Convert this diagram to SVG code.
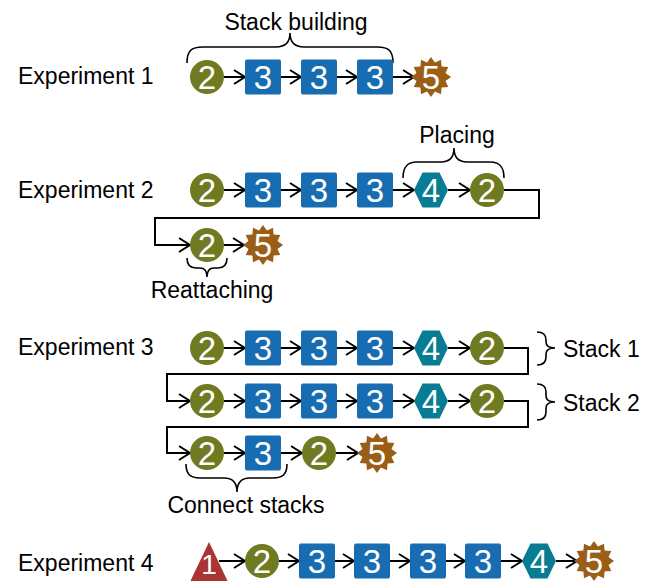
<svg xmlns="http://www.w3.org/2000/svg" width="650" height="581" viewBox="0 0 650 581">
<style>
text{font-family:"Liberation Sans",Arial,sans-serif}
.lbl{font-size:23px;fill:#000}
.num{font-size:33px;fill:#fff;text-anchor:middle}
.c2{fill:#6f7a21}
.s3{fill:#176cb2}
.h4{fill:#077c93}
.st5{fill:#9a5e16}
.t1{fill:#a93431}
.ln{stroke:#000;stroke-width:2;fill:none}
.br{stroke:#000;stroke-width:1.6;fill:none}
</style>
<defs>
<marker id="ah" markerUnits="userSpaceOnUse" markerWidth="14" markerHeight="16" refX="12" refY="8" orient="auto" overflow="visible">
<path d="M1,1 L12,8 L1,15" fill="none" stroke="#000" stroke-width="2"/>
</marker>
<circle id="circ" r="17"/>
<rect id="sq" x="-18" y="-17.5" width="36" height="35" rx="2"/>
<polygon id="hex" points="-17,0 -8.5,-17.5 8.5,-17.5 17,0 8.5,17.5 -8.5,17.5"/>
<polygon id="star" points="0,-20 3.9,-14.5 10,-17.3 10.6,-10.6 17.3,-10 14.5,-3.9 20,0 14.5,3.9 17.3,10 10.6,10.6 10,17.3 3.9,14.5 0,20 -3.9,14.5 -10,17.3 -10.6,10.6 -17.3,10 -14.5,3.9 -20,0 -14.5,-3.9 -17.3,-10 -10.6,-10.6 -10,-17.3 -3.9,-14.5"/>
</defs>

<g id="labels">
<text class="lbl" x="18" y="84">Experiment 1</text>
<text class="lbl" x="18" y="198">Experiment 2</text>
<text class="lbl" x="18" y="355">Experiment 3</text>
<text class="lbl" x="18" y="571">Experiment 4</text>
<text class="lbl" x="296" y="30" text-anchor="middle">Stack building</text>
<text class="lbl" x="457" y="143" text-anchor="middle">Placing</text>
<text class="lbl" x="212" y="298" text-anchor="middle">Reattaching</text>
<text class="lbl" x="246" y="513" text-anchor="middle">Connect stacks</text>
<text class="lbl" x="563" y="357">Stack 1</text>
<text class="lbl" x="563" y="411">Stack 2</text>
</g>

<g id="braces">
<path class="br" d="M187,63 C187,51 191,47 203,47 L276,47 C286,47 290,42 290,33 C290,42 294,47 304,47 L377,47 C389,47 393,51 393,63"/>
<path class="br" d="M403,178 C403,167 407,162 417,162 L441,162 C450,162 454,157 454,148 C454,157 458,162 467,162 L490,162 C500,162 504,167 504,178"/>
<path class="br" d="M187,258 C187,264 190,268 196,268 L200,268 C205,268 207,271 207,277 C207,271 209,268 214,268 L218,268 C224,268 227,264 227,258"/>
<path class="br" d="M186,464 C186,474 190,478 200,478 L224,478 C233,478 237,483 237,492 C237,483 241,478 250,478 L273,478 C283,478 287,474 287,464"/>
<path class="br" d="M537,332 C543,332 546,335 546,340 L546,342 C546,346 549,348 555,348 C549,348 546,350 546,354 L546,357 C546,362 543,365 537,365"/>
<path class="br" d="M537,384 C543,384 546,387 546,392 L546,396 C546,400 549,402 555,402 C549,402 546,404 546,408 L546,412 C546,417 543,420 537,420"/>
</g>

<g id="connectors">
<line class="ln" x1="224" y1="77" x2="245" y2="77" marker-end="url(#ah)"/>
<line class="ln" x1="281" y1="77" x2="301" y2="77" marker-end="url(#ah)"/>
<line class="ln" x1="337" y1="77" x2="357" y2="77" marker-end="url(#ah)"/>
<line class="ln" x1="393" y1="77" x2="414" y2="77" marker-end="url(#ah)"/>

<line class="ln" x1="224" y1="190" x2="245" y2="190" marker-end="url(#ah)"/>
<line class="ln" x1="281" y1="190" x2="301" y2="190" marker-end="url(#ah)"/>
<line class="ln" x1="337" y1="190" x2="357" y2="190" marker-end="url(#ah)"/>
<line class="ln" x1="393" y1="190" x2="414" y2="190" marker-end="url(#ah)"/>
<line class="ln" x1="448" y1="190" x2="470" y2="190" marker-end="url(#ah)"/>
<polyline class="ln" points="504,190 539,190 539,218 155,218 155,245 190,245" marker-end="url(#ah)"/>
<line class="ln" x1="224" y1="245" x2="244" y2="245" marker-end="url(#ah)"/>

<line class="ln" x1="224" y1="348" x2="245" y2="348" marker-end="url(#ah)"/>
<line class="ln" x1="281" y1="348" x2="301" y2="348" marker-end="url(#ah)"/>
<line class="ln" x1="337" y1="348" x2="357" y2="348" marker-end="url(#ah)"/>
<line class="ln" x1="393" y1="348" x2="414" y2="348" marker-end="url(#ah)"/>
<line class="ln" x1="448" y1="348" x2="470" y2="348" marker-end="url(#ah)"/>
<polyline class="ln" points="504,348 528,348 528,374 167,374 167,401 190,401" marker-end="url(#ah)"/>
<line class="ln" x1="224" y1="401" x2="245" y2="401" marker-end="url(#ah)"/>
<line class="ln" x1="281" y1="401" x2="301" y2="401" marker-end="url(#ah)"/>
<line class="ln" x1="337" y1="401" x2="357" y2="401" marker-end="url(#ah)"/>
<line class="ln" x1="393" y1="401" x2="414" y2="401" marker-end="url(#ah)"/>
<line class="ln" x1="448" y1="401" x2="470" y2="401" marker-end="url(#ah)"/>
<polyline class="ln" points="504,401 528,401 528,427 167,427 167,453 190,453" marker-end="url(#ah)"/>
<line class="ln" x1="224" y1="453" x2="245" y2="453" marker-end="url(#ah)"/>
<line class="ln" x1="281" y1="453" x2="302" y2="453" marker-end="url(#ah)"/>
<line class="ln" x1="336" y1="453" x2="358" y2="453" marker-end="url(#ah)"/>

<line class="ln" x1="219" y1="561" x2="245" y2="561" marker-end="url(#ah)"/>
<line class="ln" x1="279" y1="561" x2="299" y2="561" marker-end="url(#ah)"/>
<line class="ln" x1="335" y1="561" x2="354" y2="561" marker-end="url(#ah)"/>
<line class="ln" x1="390" y1="561" x2="410" y2="561" marker-end="url(#ah)"/>
<line class="ln" x1="446" y1="561" x2="465" y2="561" marker-end="url(#ah)"/>
<line class="ln" x1="501" y1="561" x2="522" y2="561" marker-end="url(#ah)"/>
<line class="ln" x1="556" y1="561" x2="577" y2="561" marker-end="url(#ah)"/>
</g>

<!-- Experiment 1 -->
<g id="e1n1" transform="translate(207,77)"><use href="#circ" class="c2"/><text class="num" y="12">2</text></g>
<g id="e1n2" transform="translate(263,77)"><use href="#sq" class="s3"/><text class="num" y="12">3</text></g>
<g id="e1n3" transform="translate(319,77)"><use href="#sq" class="s3"/><text class="num" y="12">3</text></g>
<g id="e1n4" transform="translate(375,77)"><use href="#sq" class="s3"/><text class="num" y="12">3</text></g>
<g id="e1n5" transform="translate(431,77)"><use href="#star" class="st5"/><text class="num" y="12">5</text></g>

<!-- Experiment 2 -->
<g id="e2n1" transform="translate(207,190)"><use href="#circ" class="c2"/><text class="num" y="12">2</text></g>
<g id="e2n2" transform="translate(263,190)"><use href="#sq" class="s3"/><text class="num" y="12">3</text></g>
<g id="e2n3" transform="translate(319,190)"><use href="#sq" class="s3"/><text class="num" y="12">3</text></g>
<g id="e2n4" transform="translate(375,190)"><use href="#sq" class="s3"/><text class="num" y="12">3</text></g>
<g id="e2n5" transform="translate(431,190)"><use href="#hex" class="h4"/><text class="num" y="12">4</text></g>
<g id="e2n6" transform="translate(487,190)"><use href="#circ" class="c2"/><text class="num" y="12">2</text></g>
<g id="e2n7" transform="translate(207,245)"><use href="#circ" class="c2"/><text class="num" y="12">2</text></g>
<g id="e2n8" transform="translate(263,245)"><use href="#star" class="st5"/><text class="num" y="12">5</text></g>

<!-- Experiment 3 -->
<g id="e3n1" transform="translate(207,348)"><use href="#circ" class="c2"/><text class="num" y="12">2</text></g>
<g id="e3n2" transform="translate(263,348)"><use href="#sq" class="s3"/><text class="num" y="12">3</text></g>
<g id="e3n3" transform="translate(319,348)"><use href="#sq" class="s3"/><text class="num" y="12">3</text></g>
<g id="e3n4" transform="translate(375,348)"><use href="#sq" class="s3"/><text class="num" y="12">3</text></g>
<g id="e3n5" transform="translate(431,348)"><use href="#hex" class="h4"/><text class="num" y="12">4</text></g>
<g id="e3n6" transform="translate(487,348)"><use href="#circ" class="c2"/><text class="num" y="12">2</text></g>
<g id="e3n7" transform="translate(207,401)"><use href="#circ" class="c2"/><text class="num" y="12">2</text></g>
<g id="e3n8" transform="translate(263,401)"><use href="#sq" class="s3"/><text class="num" y="12">3</text></g>
<g id="e3n9" transform="translate(319,401)"><use href="#sq" class="s3"/><text class="num" y="12">3</text></g>
<g id="e3n10" transform="translate(375,401)"><use href="#sq" class="s3"/><text class="num" y="12">3</text></g>
<g id="e3n11" transform="translate(431,401)"><use href="#hex" class="h4"/><text class="num" y="12">4</text></g>
<g id="e3n12" transform="translate(487,401)"><use href="#circ" class="c2"/><text class="num" y="12">2</text></g>
<g id="e3n13" transform="translate(207,453)"><use href="#circ" class="c2"/><text class="num" y="12">2</text></g>
<g id="e3n14" transform="translate(263,453)"><use href="#sq" class="s3"/><text class="num" y="12">3</text></g>
<g id="e3n15" transform="translate(319,453)"><use href="#circ" class="c2"/><text class="num" y="12">2</text></g>
<g id="e3n16" transform="translate(377,453)"><use href="#star" class="st5"/><text class="num" y="12">5</text></g>

<!-- Experiment 4 -->
<g id="e4n1"><polygon class="t1" points="209,542 189,584 229,584"/><text class="num" x="209" y="574" style="font-size:28px">1</text></g>
<g id="e4n2" transform="translate(262,561)"><use href="#circ" class="c2"/><text class="num" y="12">2</text></g>
<g id="e4n3" transform="translate(317,561)"><use href="#sq" class="s3"/><text class="num" y="12">3</text></g>
<g id="e4n4" transform="translate(372,561)"><use href="#sq" class="s3"/><text class="num" y="12">3</text></g>
<g id="e4n5" transform="translate(428,561)"><use href="#sq" class="s3"/><text class="num" y="12">3</text></g>
<g id="e4n6" transform="translate(483,561)"><use href="#sq" class="s3"/><text class="num" y="12">3</text></g>
<g id="e4n7" transform="translate(539,561)"><use href="#hex" class="h4"/><text class="num" y="12">4</text></g>
<g id="e4n8" transform="translate(594,561)"><use href="#star" class="st5"/><text class="num" y="12">5</text></g>
</svg>
